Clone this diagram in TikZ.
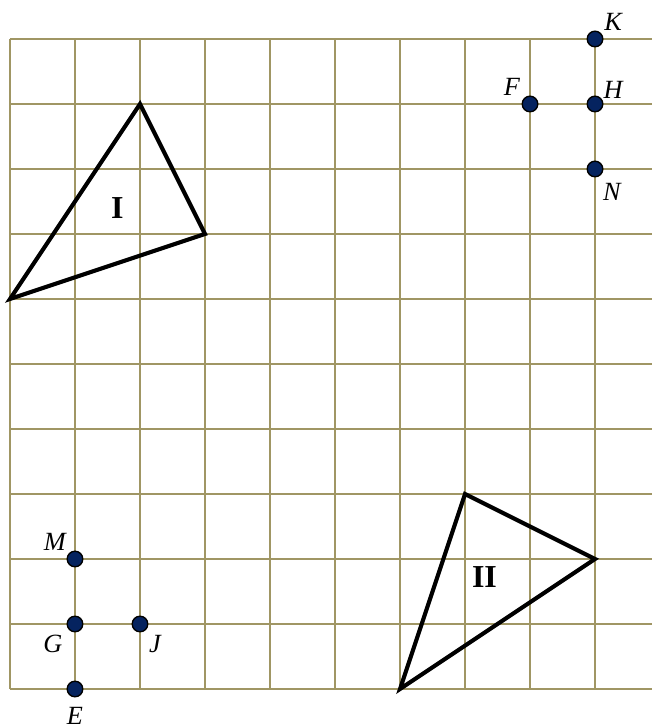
\documentclass[tikz,border=0pt]{standalone}
\usepackage{fontspec}
\setmainfont{Liberation Serif}
\definecolor{gridc}{RGB}{160,150,100}
\definecolor{dotc}{RGB}{5,35,95}
\begin{document}
\begin{tikzpicture}[x=1cm,y=1cm,
  gridline/.style={draw=gridc, line width=0.9pt},
  tri/.style={draw=black, line width=1.8pt, line join=miter},
  pt/.style={circle, fill=dotc, draw=black, line width=0.6pt, minimum size=0.24cm, inner sep=0pt},
  lab/.style={font=\fontsize{11.5}{13}\selectfont\itshape, inner sep=0pt},
  num/.style={font=\fontsize{14}{16}\selectfont\bfseries, inner sep=0pt}]
\useasboundingbox (-0.1538,-0.5538) rectangle (9.8769,10.6);
% grid
\foreach \i in {0,...,9} \draw[gridline] (\i,0) -- (\i,10);
\foreach \j in {0,...,10} \draw[gridline] (0,\j) -- (9.8769,\j);
% triangle I
\coordinate (A1) at (0,6);
\coordinate (B1) at (2,9);
\coordinate (C1) at (3,7);
\draw[tri] (A1) -- (B1) -- (C1) -- cycle;
\node[num] (T1) at (1.65,7.4) {I};
% triangle II
\coordinate (A2) at (6,0);
\coordinate (B2) at (7,3);
\coordinate (C2) at (9,2);
\draw[tri] (A2) -- (B2) -- (C2) -- cycle;
\node[num] (T2) at (7.3,1.72) {II};
% points
\node[pt] (K) at (9,10) {};
\node[pt] (H) at (9,9) {};
\node[pt] (F) at (8,9) {};
\node[pt] (N) at (9,8) {};
\node[pt] (M) at (1,2) {};
\node[pt] (G) at (1,1) {};
\node[pt] (J) at (2,1) {};
\node[pt] (E) at (1,0) {};
% labels
\path (K) ++(0.28,0.26) node[lab] (lK) {K};
\path (H) ++(0.28,0.22) node[lab] (lH) {H};
\path (F) ++(-0.28,0.26) node[lab] (lF) {F};
\path (N) ++(0.26,-0.35) node[lab] (lN) {N};
\path (M) ++(-0.31,0.26) node[lab] (lM) {M};
\path (G) ++(-0.34,-0.31) node[lab] (lG) {G};
\path (J) ++(0.23,-0.31) node[lab] (lJ) {J};
\path (E) ++(0,-0.42) node[lab] (lE) {E};
\end{tikzpicture}
\end{document}
